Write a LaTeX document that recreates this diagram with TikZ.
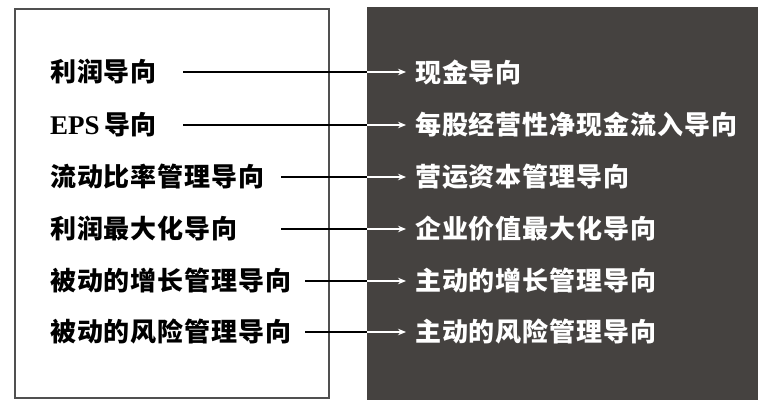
\documentclass[tikz,border=0pt]{standalone}
\usepackage{fontspec}
\newfontfamily\cjk[LetterSpace=3.5]{Noto Sans CJK SC}
\newfontfamily\lat{Liberation Serif}
\usetikzlibrary{arrows.meta}
\definecolor{darkbox}{RGB}{69,66,64}
\definecolor{framegray}{RGB}{80,80,80}
\begin{document}
\begin{tikzpicture}[x=1pt,y=-1pt,
  lt/.style={anchor=west,inner sep=0pt,text=black,font=\cjk\bfseries\fontsize{26}{26}\selectfont},
  rt/.style={lt,text=white},
  conn/.style={line width=1.2pt,black},
  connw/.style={line width=1.2pt,white,-{Stealth[length=8pt,width=6.5pt]},shorten >=9pt}]
\useasboundingbox (0,0) rectangle (766,407);
\fill[white] (0,0) rectangle (766,407);
\draw[framegray,line width=2pt] (15,9) rectangle (329,398);
\fill[darkbox] (367,7) rectangle (758,400);
% left texts
\node[lt] (l1) at (50,72) {利润导向};
\node[lt] (l2) at (50,125) {{\lat\bfseries\fontsize{27}{27}\selectfont EPS}\,导向};
\node[lt] (l3) at (50,177) {流动比率管理导向};
\node[lt] (l4) at (50,229) {利润最大化导向};
\node[lt] (l5) at (50,281) {被动的增长管理导向};
\node[lt] (l6) at (50,332) {被动的风险管理导向};
% right texts
\node[rt] (r1) at (415,72) {现金导向};
\node[rt] (r2) at (415,125) {每股经营性净现金流入导向};
\node[rt] (r3) at (415,177) {营运资本管理导向};
\node[rt] (r4) at (415,229) {企业价值最大化导向};
\node[rt] (r5) at (415,281) {主动的增长管理导向};
\node[rt] (r6) at (415,332) {主动的风险管理导向};
% connector start points and box edge points
\coordinate (s1) at (183,72);  \coordinate (e1) at (367,72);
\coordinate (s2) at (183,125); \coordinate (e2) at (367,125);
\coordinate (s3) at (281,177); \coordinate (e3) at (367,177);
\coordinate (s4) at (281,229); \coordinate (e4) at (367,229);
\coordinate (s5) at (305,281); \coordinate (e5) at (367,281);
\coordinate (s6) at (305,332); \coordinate (e6) at (367,332);
\foreach \i in {1,...,6}{
  \draw[conn] (s\i) -- (e\i);
  \draw[connw] (e\i) -- (r\i.west);
}
\end{tikzpicture}
\end{document}
